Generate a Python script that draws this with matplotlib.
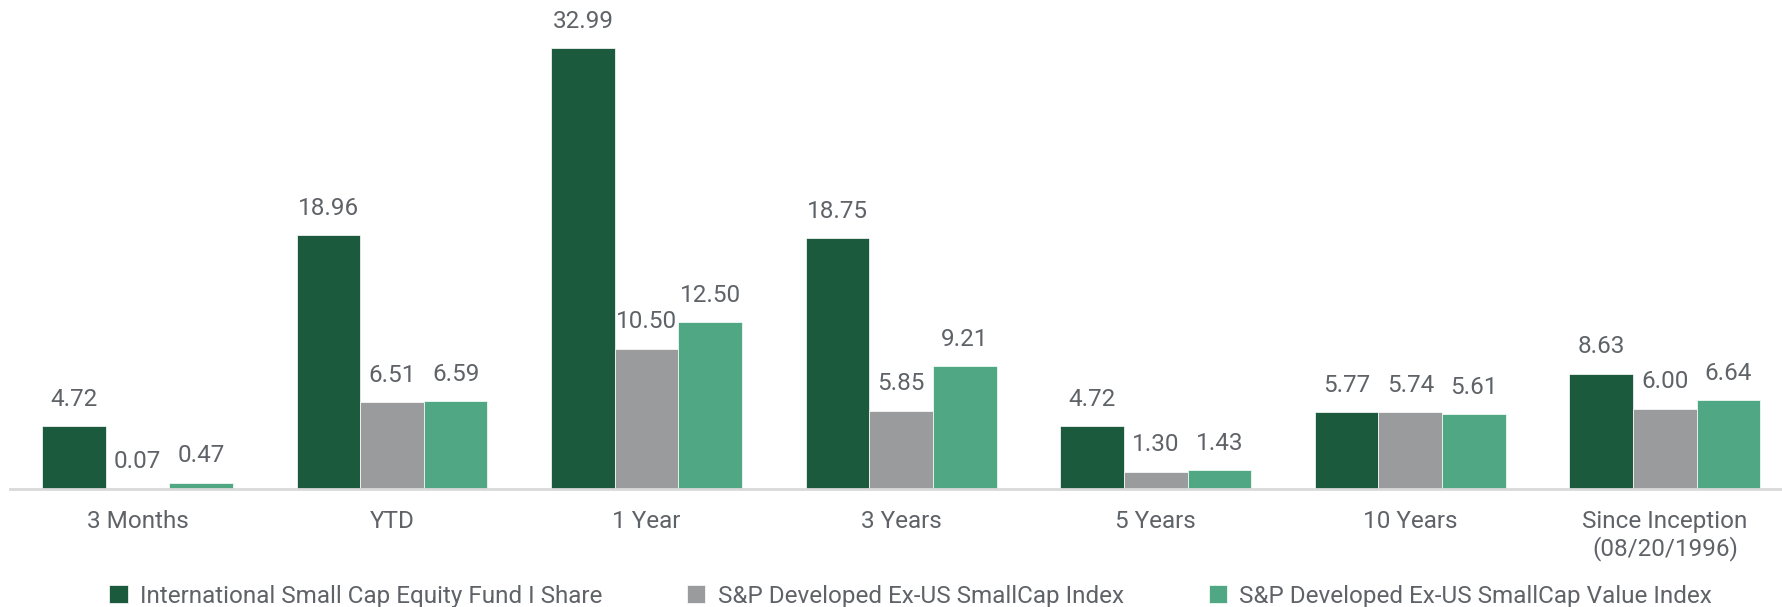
import matplotlib.pyplot as plt
import numpy as np

plt.rcParams['font.family'] = ['Roboto', 'DejaVu Sans']

categorias = ["3 Months", "YTD", "1 Year", "3 Years", "5 Years", "10 Years",
              "Since Inception\n(08/20/1996)"]
fondo = [4.72, 18.96, 32.99, 18.75, 4.72, 5.77, 8.63]
indice = [0.07, 6.51, 10.50, 5.85, 1.30, 5.74, 6.00]
indice_valor = [0.47, 6.59, 12.50, 9.21, 1.43, 5.61, 6.64]

series = [
    ("International Small Cap Equity Fund I Share", fondo, "#1B5A3C"),
    ("S&P Developed Ex-US SmallCap Index", indice, "#9A9B9D"),
    ("S&P Developed Ex-US SmallCap Value Index", indice_valor, "#4FA883"),
]

TEXTO = "#5F6368"
FS = 17.5

fig = plt.figure(figsize=(17.82, 6.07), dpi=100)
ax = fig.add_axes([0.0057, 0.1944, 1.0, 0.771])

x = np.arange(len(categorias))
ancho = 0.25
for i, (nombre, valores, color) in enumerate(series):
    pos = x + (i - 1) * ancho
    barras = ax.bar(pos, valores, ancho, color=color, label=nombre,
                    edgecolor="white", linewidth=0.5)
    for b, v in zip(barras, valores):
        ax.annotate(f"{v:.2f}", (b.get_x() + b.get_width() / 2, b.get_height()),
                    xytext=(0, 11), textcoords="offset points",
                    ha="center", va="bottom", fontsize=FS, color=TEXTO)

ax.set_xlim(-0.5, 6.5)
ax.set_ylim(0, 35)
ax.set_xticks(x)
ax.set_xticklabels(categorias, fontsize=FS, color=TEXTO, linespacing=1.18)
ax.tick_params(axis="x", length=0, pad=15)
ax.set_yticks([])
for lado in ["top", "right", "left"]:
    ax.spines[lado].set_visible(False)
ax.spines["bottom"].set_color("#D9D9D9")
ax.spines["bottom"].set_linewidth(2)

fig.legend(loc="center", bbox_to_anchor=(0.511, 0.018), ncol=3, frameon=False,
           fontsize=FS, labelcolor=TEXTO, handlelength=0.75, handleheight=0.75,
           handletextpad=0.5, columnspacing=3.5)

fig.savefig("out.png", dpi=100)
